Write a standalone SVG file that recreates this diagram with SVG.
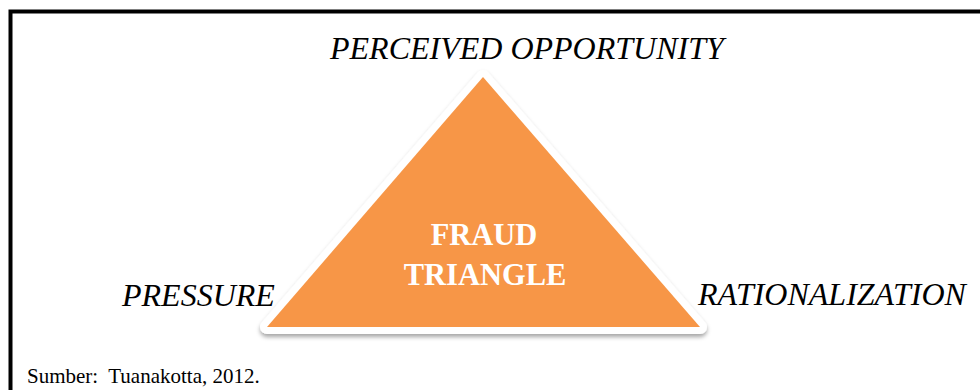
<svg xmlns="http://www.w3.org/2000/svg" width="980" height="390" viewBox="0 0 980 390">
<style>
.lbl{font-family:"Liberation Serif","Times New Roman",serif;font-style:italic;font-size:32px;fill:#000}
.ctr{font-family:"Liberation Serif","Times New Roman",serif;font-weight:bold;font-size:30.5px;fill:#fff;text-anchor:middle}
.src{font-family:"Liberation Serif","Times New Roman",serif;font-size:21px;fill:#000;white-space:pre}
</style>
<defs>
<filter id="sh" x="-10%" y="-10%" width="120%" height="130%">
<feDropShadow dx="0" dy="3" stdDeviation="2" flood-color="#000" flood-opacity="0.35"/>
</filter>
</defs>
<rect width="980" height="390" fill="#fff"/>
<path d="M980 11.5 H10.5 V390" fill="none" stroke="#000" stroke-width="4"/>
<g id="triangle">
<polygon points="483,77 267,327 700,327" fill="#F79646" stroke="#fff" stroke-width="14" stroke-linejoin="round" paint-order="stroke" filter="url(#sh)"/>
<text class="ctr" x="484" y="245">FRAUD</text>
<text class="ctr" x="485" y="285">TRIANGLE</text>
</g>
<g id="opportunity"><text class="lbl" x="330" y="59">PERCEIVED OPPORTUNITY</text></g>
<g id="pressure"><text class="lbl" x="122" y="306">PRESSURE</text></g>
<g id="rationalization"><text class="lbl" x="698" y="305">RATIONALIZATION</text></g>
<g id="connectors"></g>
<g id="source"><text class="src" x="27" y="383" xml:space="preserve">Sumber:  Tuanakotta, 2012.</text></g>
</svg>
